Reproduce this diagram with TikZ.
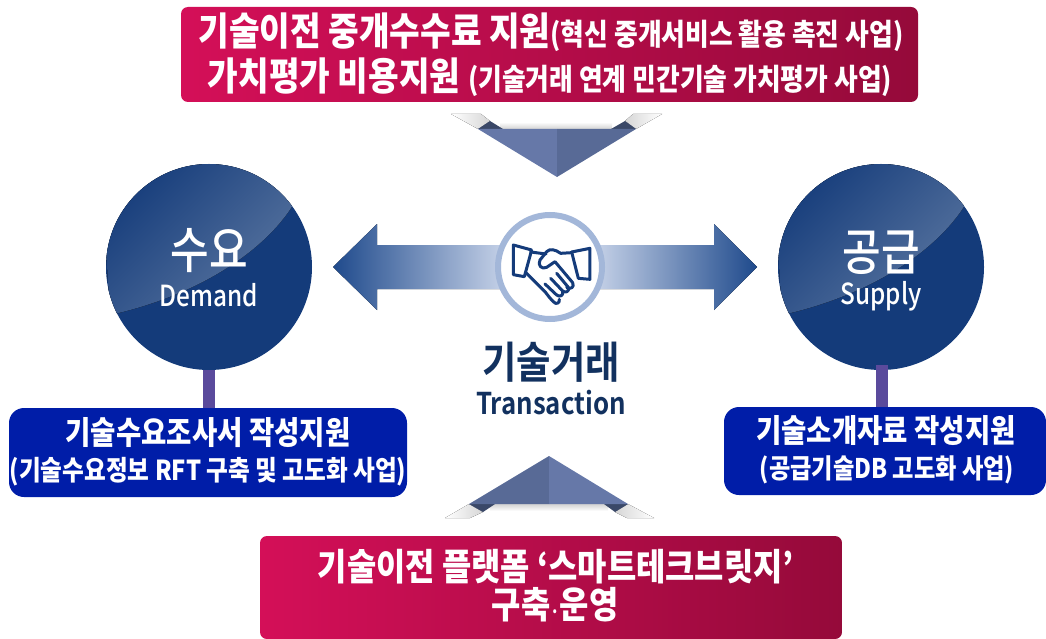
\documentclass[tikz,border=0pt]{standalone}
\usepackage{fontspec}
\setmainfont[FakeStretch=0.86]{Noto Sans CJK KR Black}
\newfontfamily\korm[FakeStretch=0.84]{Noto Sans CJK KR Medium}
\newfontfamily\korb[FakeStretch=0.86]{Noto Sans CJK KR Bold}
\usepackage{xcolor}
\usetikzlibrary{calc}
\definecolor{navy}{HTML}{143B7A}
\definecolor{gloss}{HTML}{5F7AA3}
\definecolor{ink}{HTML}{12315F}
\definecolor{ringc}{HTML}{A3B7D9}
\definecolor{pale}{HTML}{C6D2E8}
\definecolor{tipc}{HTML}{1F4A8C}
\definecolor{royal}{HTML}{001DA8}
\definecolor{stemc}{HTML}{5A4A9C}
\definecolor{crimL}{HTML}{D40F58}
\definecolor{crimM}{HTML}{D8145A}
\definecolor{crimR}{HTML}{950A3A}
\definecolor{triL}{HTML}{6678A8}
\definecolor{triR}{HTML}{586A96}
\definecolor{triD}{HTML}{3A4868}
\tikzset{
  banner/.style={rounded corners=7pt, left color=crimL, middle color=crimM, right color=crimR, text=white, inner sep=0pt, align=center},
  infobox/.style={rounded corners=15pt, fill=royal, text=white, inner sep=0pt, align=center},
  bub/.style={circle, fill=navy, minimum size=206pt, inner sep=0pt},
  ring/.style={circle, draw=ringc, line width=6pt, fill=white, minimum size=104pt, inner sep=0pt},
  stem/.style={draw=stemc, line width=12pt},
  icon/.style={draw=navy, line width=3pt, line join=round, line cap=round},
  shine/.style={left color=navy, middle color=navy!93!gloss, right color=gloss, shading angle=45},
  lab/.style={text=white, inner sep=0pt},
  labc/.style={text=ink, inner sep=0pt},
}
\newcommand{\fsz}[1]{\fontsize{#1}{#1}\selectfont}

\begin{document}
\begin{tikzpicture}[x=1pt,y=-1pt]
  \useasboundingbox (0,0) rectangle (1046,639);

  % arrows
  \fill[left color=tipc, right color=pale] (333,267)--(377,224)--(377,245)--(505,245)--(505,289)--(377,289)--(377,310)--cycle;
  \fill[left color=pale, right color=tipc] (757,267)--(714,224)--(714,245)--(595,245)--(595,289)--(714,289)--(714,310)--cycle;

  % upper triangle
  \fill[left color=white, right color=gray!32] (451,114)--(481,114)--(490,121)--(478,129)--cycle;
  \fill[left color=gray!32, right color=white] (662,114)--(633,114)--(625,121)--(636,129)--cycle;
  \fill[top color=white, bottom color=gray!35] (500,122) rectangle (612,129);
  \fill[triD] (478,129)--(490,121)--(503,129)--cycle;
  \fill[triD] (611,129)--(625,121)--(636,129)--cycle;
  \fill[triL] (478,129)--(557,129)--(557,177)--cycle;
  \fill[triR] (636,129)--(557,129)--(557,177)--cycle;

  % lower triangle
  \fill[left color=white, right color=gray!32] (445,518)--(470,518)--(483,512)--(469,504)--cycle;
  \fill[left color=gray!32, right color=white] (654,518)--(627,518)--(615,512)--(628,504)--cycle;
  \fill[bottom color=white, top color=gray!35] (490,504) rectangle (608,511);
  \fill[triD] (469,504)--(483,512)--(495,504)--cycle;
  \fill[triD] (604,504)--(615,512)--(628,504)--cycle;
  \fill[triR] (469,504)--(549,504)--(549,456)--cycle;
  \fill[triL] (628,504)--(549,504)--(549,456)--cycle;

  % center
  \node[ring] (deal) at (550,267) {};
  \begin{scope}[shift={(490,210)},x=0.3333pt,y=-0.3333pt]
    \draw[icon] (70,105)--(125,120)--(103,200)--(70,194)--cycle;
    \draw[icon] (300,115)--(245,126)--(265,205)--(300,208)--cycle;
    \draw[icon] (122,126)--(168,132);
    \draw[icon] (245,128)--(212,130) .. controls (195,118) and (180,115) .. (170,125)--(150,150) .. controls (142,165) and (155,180) .. (170,172)--(195,155)--(248,218) .. controls (255,232) and (240,240) .. (230,232);
    \draw[icon] (108,188)--(165,245) .. controls (175,258) and (180,265) .. (190,275) .. controls (198,285) and (210,280) .. (208,268);
    \draw[icon] (200,190)--(235,232) .. controls (240,245) and (225,250) .. (218,243)--(182,205);
    \draw[icon] (218,243) .. controls (222,258) and (208,262) .. (200,255)--(165,222);
  \end{scope}
  \node[labc, font=\korb\fsz{43.5}] (dealk) at (551,362) {기술거래};
  \node[labc, font=\korb\fsz{30}] (deale) at (551,403) {Transaction};

  % demand
  \node[infobox, minimum width=398pt, minimum height=89pt] (demb) at (208,452.5) {};
  \node[infobox, minimum width=322pt, minimum height=88pt] (supb) at (885,451) {};
  \node[bub] (dem) at (209,267) {};
  \node[bub] (sup) at (881,267) {};
  \coordinate (supf) at (882,365);
  \draw[stem] (dem.south) -- (dem.south |- demb.north);
  \draw[stem] (supf) -- (supf |- supb.north);
  \begin{scope}
    \clip (209,267) circle (103);
    \fill[shine] (100,150) -- (320,150) -- (320,170) -- (293,205) .. controls (265,250) and (200,295) .. (110,315) -- cycle;
  \end{scope}
  \begin{scope}
    \clip (881,267) circle (103);
    \fill[shine] (772,150) -- (992,150) -- (992,170) -- (965,205) .. controls (937,250) and (872,295) .. (782,315) -- cycle;
  \end{scope}
  \node[lab, font=\korm\fsz{50}] (demk) at (209,251) {수요};
  \node[lab, font=\korm\fsz{29}] (deme) at (209,295) {Demand};
  \node[lab, font=\korm\fsz{50}] (supk) at (881,253) {공급};
  \node[lab, font=\korm\fsz{29}] (supe) at (881,296) {Supply};

  % text of boxes
  \node[lab, font=\fsz{32}] (dema) at (208,433) {기술수요조사서 작성지원};
  \node[lab, font=\fsz{27.5}] (demc) at (208,472) {(기술수요정보 RFT 구축 및 고도화 사업)};
  \node[lab, font=\fsz{32}] (supa) at (886,431) {기술소개자료 작성지원};
  \node[lab, font=\fsz{27}] (supc) at (887,470) {(공급기술DB 고도화 사업)};

  % banners
  \node[banner, minimum width=737pt, minimum height=95pt] (topb) at (549.5,54.5) {};
  \node[lab, font=\fsz{38.7}] (topa) at (551,32) {기술이전 중개수수료 지원{\fsz{30}(혁신 중개서비스 활용 촉진 사업)}};
  \node[lab, font=\fsz{38.7}] (topc) at (550,77) {가치평가 비용지원 {\fsz{30}(기술거래 연계 민간기술 가치평가 사업)}};
  \node[banner, minimum width=582pt, minimum height=103pt] (botb) at (551,587.5) {};
  \node[lab, font=\fsz{37}] (bota) at (556,567) {기술이전 플랫폼 ‘스마트테크브릿지'};
  \node[lab, font=\fsz{37}] (botc) at (555,605) {구축{\fsz{18}·}운영};
\end{tikzpicture}
\end{document}
